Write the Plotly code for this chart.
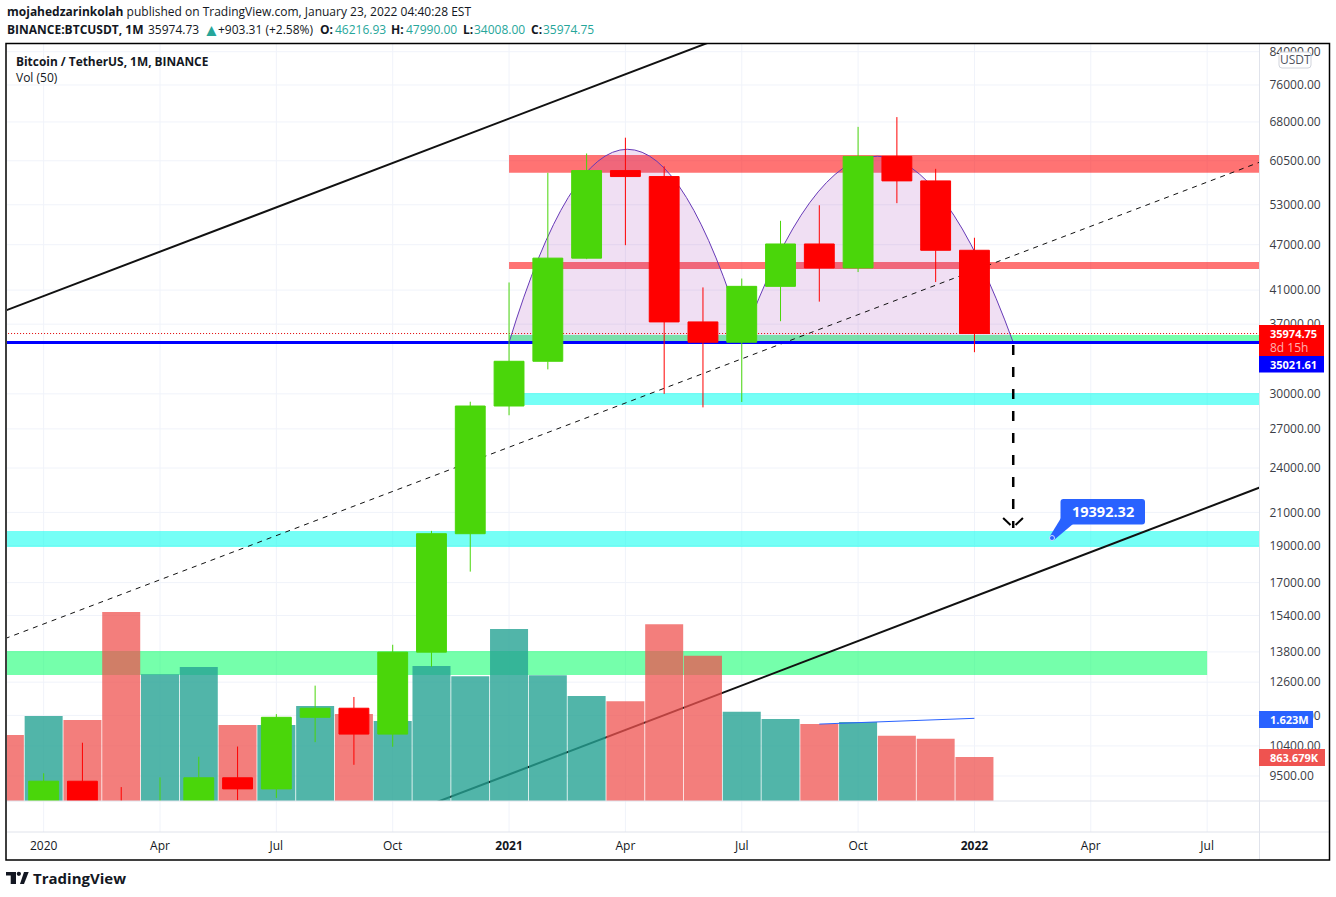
import numpy as np
import plotly.graph_objects as go

W, H = 1336, 897
FONT = "Open Sans"

# -------------------------
# data
# -------------------------
bar_idx = list(range(-1, 25))  # month number, 0 = Jan 2020
opens = [7540, 7195, 9351, 8523, 6412, 8620, 9448, 9138, 11335, 11649, 10776, 13791, 19695,
         28924, 33092, 45134, 58739, 57697, 37253, 35045, 41462, 47100, 43820, 61300, 56950, 46216.93]
highs = [7750, 9578, 10500, 9188, 9460, 10067, 10380, 11444, 12468, 12050, 14100, 19863, 29300,
         41950, 58352, 61844, 64854, 59500, 41330, 42448, 50500, 52920, 67000, 69000, 59053, 47990]
lows = [6435, 6871, 8445, 3782, 6150, 8117, 8833, 8893, 10518, 9825, 10374, 13195, 17572,
        28130, 32296, 45000, 46930, 30000, 28805, 29278, 37332, 39600, 43283, 53256, 42000, 34008]
closes = [7195, 9352, 8523, 6410, 8620, 9448, 9138, 11335, 11649, 10776, 13791, 19695, 28923,
          33092, 45137, 58740, 57694, 37253, 35045, 41462, 47101, 43824, 61300, 56950, 46216, 35974.75]
volumes = [1.296e6, 1.668e6, 1.59e6, 3.71e6, 2.49e6, 2.63e6, 1.49e6, 1.49e6, 1.865e6, 1.708e6,
           1.57e6, 2.65e6, 2.45e6, 3.376e6, 2.47e6, 2.06e6, 1.96e6, 3.47e6, 2.85e6, 1.75e6,
           1.61e6, 1.51e6, 1.55e6, 1.28e6, 1.22e6, 863679]
ma_idx = [20, 21, 22, 23, 24]
ma_values = [1.51e6, 1.54e6, 1.56e6, 1.59e6, 1.623e6]

price_ticks = [84000, 76000, 68000, 60500, 53000, 47000, 41000, 37000, 30000, 27000, 24000,
               21000, 19000, 17000, 15400, 13800, 12600, 11400, 10400, 9500]
time_ticks = [0, 3, 6, 9, 12, 15, 18, 21, 24, 27, 30]
time_labels = ["2020", "Apr", "Jul", "Oct", "<b>2021</b>", "Apr", "Jul", "Oct", "<b>2022</b>", "Apr", "Jul"]

# zones: low, high, first month, last month, colour
zones = [
    (58340, 61560, 12, 33, "rgba(255,0,0,0.55)"),
    (43680, 44620, 12, 33, "rgba(255,0,0,0.55)"),
    (35021, 35820, 12, 33, "rgba(0,255,100,0.54)"),
    (29010, 30080, 12, 33, "rgba(0,255,238,0.54)"),
    (18925, 19860, -2, 33, "rgba(0,255,238,0.54)"),
    (12870, 13840, -2, 30, "rgba(0,255,100,0.54)"),
]
last_price = 35974.75
level_price = 35021.61
arcs = [(12, 18.1, 112000), (18, 25, 107400)]
PRICE_MIN, PRICE_MAX = 8811, 85977
VOL_MAX = 14.86e6

GREEN = "#4ad60a"
RED = "#ff0000"
TEAL_BAR = "rgba(38,162,148,0.8)"
RED_BAR = "rgba(239,83,80,0.75)"
GRID = "#f0f3fa"
EDGE = "#e0e3eb"
TXT = "#131722"
TEAL = "#26a69a"


# pixel -> paper helpers for the page furniture
def px(x):
    return x / W


def py(y):
    return 1 - y / H


def rect(x0, y0, x1, y1, fill):
    return dict(type="rect", xref="paper", yref="paper", x0=px(x0), x1=px(x1), y0=py(y0), y1=py(y1),
                fillcolor=fill, line=dict(width=0), layer="above")


def pline(x0, y0, x1, y1, color, width=1):
    return dict(type="line", xref="paper", yref="paper", x0=px(x0), x1=px(x1), y0=py(y0), y1=py(y1),
                line=dict(color=color, width=width), layer="above")


def rounded(x0, y0, x1, y1, r, fill, line=None):
    p = (f"M {px(x0 + r)},{py(y0)} L {px(x1 - r)},{py(y0)} Q {px(x1)},{py(y0)} {px(x1)},{py(y0 + r)} "
         f"L {px(x1)},{py(y1 - r)} Q {px(x1)},{py(y1)} {px(x1 - r)},{py(y1)} "
         f"L {px(x0 + r)},{py(y1)} Q {px(x0)},{py(y1)} {px(x0)},{py(y1 - r)} "
         f"L {px(x0)},{py(y0 + r)} Q {px(x0)},{py(y0)} {px(x0 + r)},{py(y0)} Z")
    return dict(type="path", xref="paper", yref="paper", path=p, fillcolor=fill,
                line=dict(color=line or fill, width=1 if line else 0), layer="above")


def poly(points, fill):
    p = "M " + " L ".join(f"{px(x)},{py(y)}" for x, y in points) + " Z"
    return dict(type="path", xref="paper", yref="paper", path=p, fillcolor=fill, line=dict(width=0), layer="above")


def label(x, y, text, size=12, color=TXT, anchor="left"):
    return dict(xref="paper", yref="paper", x=px(x), y=py(y), text=text, showarrow=False,
                xanchor=anchor, yanchor="middle", font=dict(family=FONT, size=size, color=color), borderpad=0)


def pline_price(x0, p0, x1, p1, color, width=1, dash="solid"):
    return dict(type="line", xref="x", yref="y2", x0=x0, x1=x1, y0=p0, y1=p1,
                line=dict(color=color, width=width, dash=dash), layer="below")


bar_colors = [TEAL_BAR if c > o else RED_BAR for o, c in zip(opens, closes)]

# -------------------------
# traces
# -------------------------
fig = go.Figure()
fig.add_trace(go.Bar(x=bar_idx, y=volumes, marker=dict(color=bar_colors, line=dict(width=0)),
                     yaxis="y", hoverinfo="skip"))
fig.add_trace(go.Scatter(x=ma_idx, y=ma_values, mode="lines", line=dict(color="#2962ff", width=1),
                         yaxis="y", hoverinfo="skip"))
fig.add_trace(go.Candlestick(
    x=bar_idx, open=opens, high=highs, low=lows, close=closes, yaxis="y2",
    increasing=dict(line=dict(color=GREEN, width=1), fillcolor=GREEN),
    decreasing=dict(line=dict(color=RED, width=1), fillcolor=RED),
    hoverinfo="skip",
))

# -------------------------
# grid, as paper shapes so it stays under the drawings
# -------------------------
shapes = []
for t in time_ticks:
    shapes.append(dict(type="line", xref="x", yref="paper", x0=t, x1=t, y0=py(832), y1=py(44),
                       line=dict(color=GRID, width=1), layer="below"))
for p in price_ticks:
    shapes.append(dict(type="line", xref="paper", yref="y2", x0=px(7), x1=px(1259), y0=p, y1=p,
                       line=dict(color=GRID, width=1), layer="below"))

# -------------------------
# drawings on the price scale
# -------------------------
for low, high, m0, m1, color in zones:
    shapes.append(dict(type="rect", xref="x", yref="y2", x0=m0, x1=m1, y0=low, y1=high,
                       fillcolor=color, line=dict(width=0), layer="below"))
for m0, m1, ctrl in arcs:
    shapes.append(dict(type="path", xref="x", yref="y2",
                       path=f"M {m0},{level_price} Q {(m0 + m1) / 2},{ctrl} {m1},{level_price} Z",
                       fillcolor="rgba(156,39,176,0.15)", line=dict(color="#673ab7", width=1), layer="below"))
shapes.append(pline_price(-1, 38520, 18, 89700, "#111111", 2))
shapes.append(pline_price(-1, 14360, 32, 62000, "#111111", 1, "5px,5px"))
shapes.append(pline_price(10, 8730, 32, 23290, "#111111", 2))
shapes.append(pline_price(-2, level_price, 33, level_price, "#0000ff", 3))
shapes.append(pline_price(-2, last_price, 33, last_price, "#e00000", 1, "1px,2px"))
shapes.append(pline_price(25, 34760, 25, 20040, "#000000", 2.5, "10px,12px"))
shapes.append(pline_price(24.74, 20650, 24.93, 20220, "#000000", 2))
shapes.append(pline_price(25.25, 20650, 25.06, 20220, "#000000", 2))

# -------------------------
# chart frame and price badges
# -------------------------
shapes += [
    pline(7, 801, 1329, 801, EDGE),
    pline(7, 832, 1329, 832, EDGE),
    pline(1259.5, 44, 1259.5, 860, EDGE),
    dict(type="rect", xref="paper", yref="paper", x0=px(6), x1=px(1329.5), y0=py(43.5), y1=py(860),
         line=dict(color="#000000", width=1.5), layer="above"),
    rounded(1279, 52, 1311, 68, 3, "#ffffff", "#d1d4dc"),
    rect(1259, 325, 1324, 356, "#ff0000"),
    rect(1259, 356, 1324, 372.5, "#0000ff"),
    rect(1259, 711, 1313, 728, "#2962ff"),
    rect(1259, 749, 1325, 766, "#ef5350"),
    # callout
    poly([(1050, 536), (1054, 540), (1073, 524), (1061, 518)], "#2962ff"),
    rounded(1060.5, 499, 1145, 524.5, 3, "#2962ff"),
    dict(type="circle", xref="paper", yref="paper", x0=px(1049.5), x1=px(1054.5), y0=py(540.5), y1=py(535.5),
         fillcolor="#2962ff", line=dict(color="#cfe0ff", width=1), layer="above"),
    # logo
    poly([(6, 872), (16, 872), (16, 884), (10.7, 884), (10.7, 875.5), (6, 875.5)], TXT),
    dict(type="circle", xref="paper", yref="paper", x0=px(16.7), x1=px(21), y0=py(876), y1=py(871.7),
         fillcolor=TXT, line=dict(width=0), layer="above"),
    poly([(20, 884), (24, 872), (28.7, 872), (24, 884)], TXT),
]

# -------------------------
# text
# -------------------------
quote_parts = [
    (6, "<b>BINANCE:BTCUSDT, 1M</b>", 12, TXT), (147, "35974.73", 12, TXT), (202, "▲", 17, TEAL),
    (217, "+903.31 (+2.58%)", 12, TXT), (319, "<b>O:</b>", 12, TXT), (334, "46216.93", 12, TEAL),
    (390, "<b>H:</b>", 12, TXT), (405, "47990.00", 12, TEAL), (462, "<b>L:</b>", 12, TXT), (473, "34008.00", 12, TEAL),
    (530, "<b>C:</b>", 12, TXT), (542, "35974.75", 12, TEAL),
]
annotations = [label(x, 29, text, size, color) for x, text, size, color in quote_parts]
annotations += [
    label(6, 12, "<b>mojahedzarinkolah</b> published on TradingView.com, January 23, 2022 04:40:28 EST", 12),
    label(15, 61, "<b>Bitcoin / TetherUS, 1M, BINANCE</b>", 11.9),
    label(15, 78, "Vol (50)", 12),
    label(1295, 60, "USDT", 12, "#50535e", "center"),
    label(1269, 333.5, "<b>35974.75</b>", 11, "#ffffff"),
    label(1269, 348, "8d 15h", 12, "#ffb0b0"),
    label(1269, 364.5, "<b>35021.61</b>", 11, "#ffffff"),
    label(1269, 719.5, "<b>1.623M</b>", 11, "#ffffff"),
    label(1269, 757.5, "<b>863.679K</b>", 11, "#ffffff"),
    label(1103, 511, "<b>19392.32</b>", 14.5, "#ffffff", "center"),
    label(32, 878, "<b>TradingView</b>", 15, TXT),
]

fig.update_layout(
    width=W, height=H, autosize=False,
    margin=dict(l=0, r=0, t=0, b=0),
    paper_bgcolor="#ffffff", plot_bgcolor="#ffffff",
    showlegend=False, hovermode=False,
    bargap=0.02, boxgap=0.23, boxgroupgap=0,
    font=dict(family=FONT, size=12, color=TXT),
    shapes=shapes, annotations=annotations,
    xaxis=dict(domain=[px(7), px(1259.5)], range=[-0.945, 31.35], tickmode="array",
               tickvals=time_ticks, ticktext=time_labels, showgrid=False,
               zeroline=False, showline=False, ticks="", ticklabelstandoff=36,
               tickfont=dict(family=FONT, size=12, color=TXT), rangeslider=dict(visible=False)),
    yaxis=dict(domain=[py(801), py(44)], range=[0, VOL_MAX], visible=False, showgrid=False, fixedrange=True),
    yaxis2=dict(domain=[py(801), py(44)], overlaying="y", side="right", anchor="x", type="log",
                range=[np.log10(PRICE_MIN), np.log10(PRICE_MAX)], tickmode="array",
                tickvals=price_ticks, ticktext=[f"{t:.2f}" for t in price_ticks],
                showgrid=False, zeroline=False, showline=False, ticks="",
                ticklabelstandoff=9, tickfont=dict(family=FONT, size=12, color="#3a3d46")),
)

fig.write_html("out.html", config={"displayModeBar": False},
               post_script="document.body.style.margin='0';document.body.style.overflow='hidden';")
